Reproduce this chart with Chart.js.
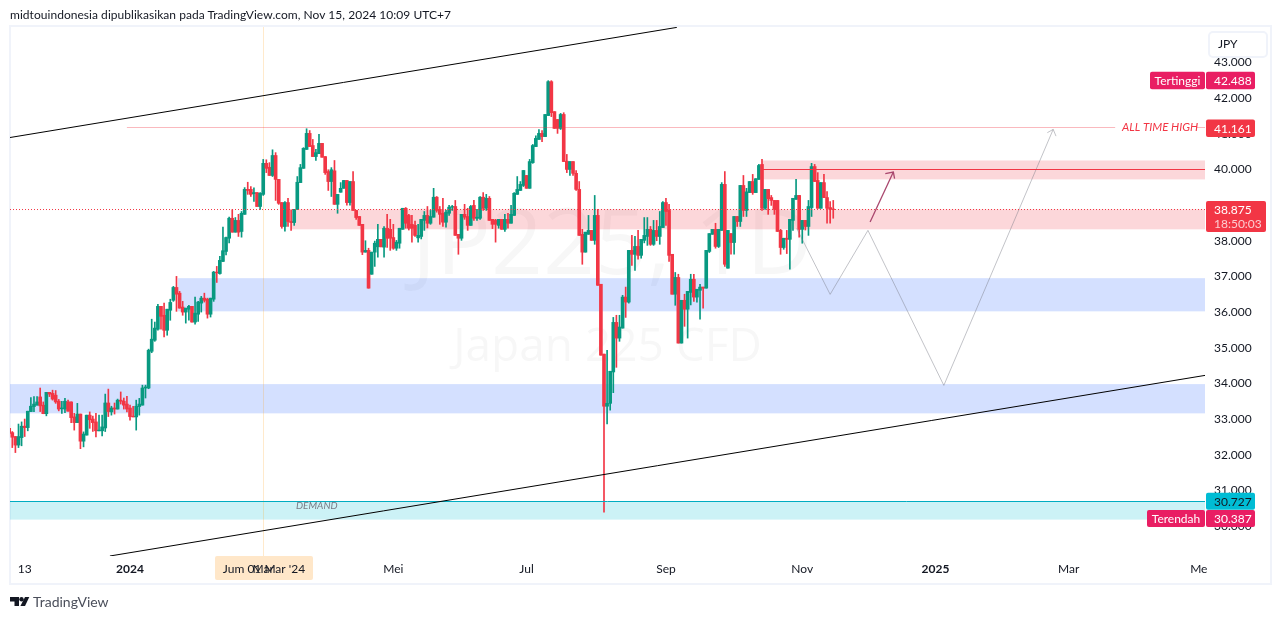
<!DOCTYPE html>
<html>
<head>
<meta charset="utf-8">
<style>
html, body { margin: 0; padding: 0; background: #fff; overflow: hidden; }
#wrap { position: relative; width: 1281px; height: 619px; }
#title { position: absolute; left: 10px; top: 7px; font: 12px Lato, sans-serif; letter-spacing: 0.04px; color: #131722; white-space: nowrap; }
#brand { position: absolute; left: 33px; top: 593px; font: 14px Lato, sans-serif; color: #4a4e5a; }
#logo { position: absolute; left: 0; top: 590px; }
</style>
</head>
<body>
<div id="wrap">
  <canvas id="chart" width="1281" height="619"></canvas>
  <div id="title">midtouindonesia dipublikasikan pada TradingView.com, Nov 15, 2024 10:09 UTC+7</div>
  <svg id="logo" width="32" height="20"><path d="M10 7h9v9h-4.5v-4.5H10z" fill="#131722"/><circle cx="21.5" cy="9.3" r="2.2" fill="#131722"/><path d="M25 7h4.3l-4.3 9h-4.6z" fill="#131722"/></svg>
  <div id="brand">TradingView</div>
</div>
<script src="https://cdn.jsdelivr.net/npm/chart.js@4"></script>
<script>
const opens = [32740,32620,32510,32270,32480,32800,32760,33210,33350,33390,
33620,33390,33150,33750,33720,33670,33500,33290,33280,33480,
33480,33060,32900,33140,32380,32550,33110,33000,32920,32670,
32670,32750,33450,33200,33310,33280,33530,33500,33420,33310,
33080,33060,33350,33390,33870,33870,34900,35210,35520,36160,
35910,35490,36050,36330,36690,36530,36140,36000,36080,36160,
35720,35940,36250,36390,36360,35940,36360,37120,37080,37420,
37700,38070,38630,38240,38570,38260,38740,39440,39440,39320,
39350,38960,39300,40170,40060,39830,40390,39720,39070,38400,
39070,38540,38510,38880,39630,40030,40560,41010,40670,40360,
40440,40730,40360,39940,39660,39960,39020,39360,39470,39690,
39070,39660,38850,38680,38460,37680,37730,37060,37680,37830,
38040,37820,38350,38320,38090,37790,37930,38320,38910,38710,
38460,38430,38080,38120,38570,38710,38490,38660,39220,38880,
38770,38520,38770,38940,38960,38180,38070,38740,38680,38430,
38990,38630,38630,39220,38910,39190,38600,38570,38430,38600,
38320,38600,38490,38710,39300,39410,39550,39830,39470,40190,
40640,40840,41010,40920,41510,42460,41620,41400,41150,41540,
40230,40000,40220,39890,39440,38180,37680,38180,38290,38010,
38710,36780,34820,33360,33440,34320,35710,35270,35550,36420,
36280,37730,37620,37840,37590,38010,38120,38320,37900,38290,
38120,38370,39070,38850,37620,36500,36970,35130,36330,36080,
36550,36920,36420,36610,36700,36670,37700,38180,38320,37840,
38290,39580,37230,38200,37950,38680,38540,39550,38850,39350,
39660,39350,39720,40140,38910,39440,39210,39130,39130,38290,
37810,38070,38040,38570,39160,39270,38320,38570,38400,38930,
40080,39690,38910,39630,39210,38930,38890];
const highs = [32830,32650,32510,32860,32920,33000,33220,33600,33630,33630,
33870,33480,33750,33750,33810,33800,33550,33500,33580,33530,
33480,33160,33440,33140,32640,33110,33200,33080,33160,33110,
33110,33700,33840,33360,33450,33560,33760,33590,33640,33390,
33360,33530,33580,33950,33950,34960,35800,35720,36220,36160,
36250,36080,36360,36720,37000,36580,36300,36110,36190,36160,
36420,36300,36440,36530,36390,36390,37140,37280,37560,38380,
38100,38660,38870,38650,38740,38820,39490,39640,39520,39480,
39350,39350,40280,40270,40190,40550,40470,39720,39070,39100,
39190,38870,38880,39800,40140,40610,41140,41090,40840,40560,
40980,40730,40360,39990,40050,40250,39300,39630,39690,39690,
39660,39940,38850,38680,38460,38000,37790,37680,37990,38460,
38040,38400,38740,38600,38460,38010,38350,38910,38930,38740,
38710,38550,38460,38600,38820,38960,38850,39470,39240,38960,
39190,38850,38990,38990,39130,38180,38740,39020,38910,38990,
39130,38880,39240,39350,39300,39240,38600,38600,38600,38600,
38740,38770,38990,39350,39800,39660,39970,39830,40280,40700,
40940,41120,41090,41540,42488,42488,41620,41400,41570,41590,
40420,40220,40220,39970,39660,38320,38240,38710,38290,39270,
38880,36780,34820,34930,34340,35850,35910,35910,36470,36700,
37730,38150,38120,38290,38040,38650,38650,38400,38570,38570,
38820,39100,39190,39020,37620,37110,37060,36330,36500,36580,
37060,37060,36640,36780,36700,37730,38200,38320,38490,38320,
39630,39940,38290,38200,38680,38680,39550,39830,39470,39660,
39860,39740,40140,40280,39440,39440,39270,39130,39130,38320,
38070,38290,38600,39190,39720,39270,38570,38570,39130,40170,
40140,39910,39630,39860,39380,39100,39130];
const lows = [32550,32200,32060,32200,32250,32510,32670,33210,33210,33390,
33210,33150,33090,33630,33530,33440,33230,33160,33180,33220,
32900,32690,32900,32170,32220,32550,32740,32650,32500,32670,
32530,32650,33070,33110,33140,33280,33420,33280,33200,32970,
33060,32690,33110,33390,33590,33850,34860,35180,35490,35520,
35300,35350,35770,36300,36020,36110,35910,35690,35770,35720,
35660,35740,36000,36280,35830,35860,36300,36830,37060,37410,
37600,37940,38240,38240,38120,38100,38740,39300,39240,39100,
38960,38880,39270,39910,39830,39800,39130,39020,38350,38270,
38400,38290,38430,38880,39630,40030,40560,40640,40360,40250,
40440,40340,39860,39410,39240,39020,38770,39360,39470,39000,
39000,38850,38600,38430,37610,37680,36670,37060,37280,37540,
37830,37540,37810,37730,37760,37730,37790,38320,38350,38300,
37960,38120,37960,38050,38290,38360,38460,38660,38800,38460,
38400,38380,38710,38850,38150,37620,38010,38600,38290,38430,
38570,38570,38600,38850,38850,38570,38340,37960,38350,38320,
38260,38350,38490,38710,39300,39410,39520,39470,39470,40170,
40640,40840,40780,40920,41510,41480,41150,41010,41120,40220,
39910,39830,39830,39410,38150,37340,37680,38180,38010,37900,
36750,34790,30387,32860,33250,33740,34450,35180,35550,35850,
36250,37310,37170,37480,37510,37940,37870,37870,37870,38000,
37900,38370,38430,37420,36500,36190,35130,35130,35600,35270,
36200,36300,36280,35800,36110,36670,37670,38180,37790,37810,
38290,37280,37230,37620,37620,38400,38400,38680,38680,39350,
39300,39350,39720,38850,38880,38740,38990,38740,38260,37620,
37760,37640,37200,38290,39160,38100,37930,38300,38150,38680,
39660,38910,38910,39210,38490,38490,38630];
const closes = [32600,32490,32270,32510,32800,32760,33220,33360,33420,33480,
33370,33150,33750,33700,33560,33480,33280,33310,33500,33220,
33040,32900,33140,32380,32580,33110,32980,32900,32670,32690,
32780,33450,33210,33310,33280,33530,33500,33390,33280,33070,
33060,33360,33420,33870,33900,34930,35240,35550,36160,35880,
35490,36080,36270,36690,36500,36110,36000,36110,36160,35720,
35970,36280,36390,36330,35940,36390,37120,37100,37450,37720,
38090,38630,38240,38570,38240,38770,39440,39410,39300,39350,
38960,39330,40170,40030,39830,40390,39720,39050,38400,39070,
38540,38510,38880,39640,40050,40590,41010,40640,40360,40470,
40730,40340,39910,39660,39990,39020,39300,39470,39690,39070,
39660,38850,38650,38430,37680,37730,36670,37680,37930,38040,
37830,38350,38070,38070,37790,37960,38350,38910,38490,38350,
38350,38150,38150,38600,38710,38490,38680,39220,38850,38740,
38520,38800,38940,38960,38150,38070,38740,38660,38430,38960,
38630,38660,39220,38910,39190,38570,38460,38460,38600,38320,
38600,38490,38740,39330,39440,39580,39970,39470,40220,40670,
40870,41010,40920,41540,42460,41590,41150,41150,41540,40220,
40000,40220,39890,39440,38150,37680,38240,38290,38010,38710,
36750,34790,33360,33440,34340,35710,35270,35580,36420,36280,
37730,37620,37840,37590,38040,38150,38320,37900,38290,38120,
38400,39070,38820,37590,36500,36970,35130,36330,36080,36580,
36920,36420,36640,36700,36670,37730,38200,38320,37840,38320,
39580,37340,38290,37950,38680,38540,39550,38850,39370,39660,
39350,39740,40110,38910,39440,39180,39130,38880,38260,37810,
38070,38040,38600,39190,39270,38320,38570,38400,38960,40080,
39660,38910,39630,39210,38910,38880,38875];

// time axis, in candle slots (future slots are empty)
const firstSlot = 0.26;
const lastSlot = 386;
const tickSlots = [5, 39, 82, 124, 167, 212, 256, 299, 342, 384];
const tickNames = ['13', '2024', 'Mar', 'Mei', 'Jul', 'Sep', 'Nov', '2025', 'Mar', 'Me'];
const crossSlot = 82;

const priceTicks = [30000, 31000, 32000, 33000, 34000, 35000, 36000, 37000, 38000, 39000, 40000, 41000, 42000, 43000];

// drawings: [slot, price]
const upperTrend = [[0.26, 40894], [215.5, 43982]];
const lowerTrend = [[32.5, 29160], [386, 34224]];
const athLine = [[38, 41175], [357, 41175]];
const athStub = [[383.4, 41175], [386, 41175]];
const resistLine = [[243, 39997], [386, 39997]];
const demandLine = [[0.26, 30688], [386, 30688]];
const lastLine = [[0.26, 38875], [386, 38875]];
const pathLine = [[254.2, 38346], [265, 36496], [277.2, 38290], [301.7, 33944], [337, 41122]];
const pathHead = [[335.1, 41030], [337, 41122], [337.9, 40934]];
const upArrow = [[277.9, 38523], [285.4, 39925]];
const upHead = [[282.8, 39880], [285.4, 39925], [285.8, 39740]];

// zones: [from slot, top price, bottom price]
const pinkZones = [[243, 40250, 39720], [91.3, 38880, 38320]];
const blueZones = [[54.5, 36950, 36020], [0, 33980, 33160]];
const cyanZones = [[0, 30688, 30180]];

const fontName = 'Lato, sans-serif';
const markFont = '"Open Sans", sans-serif';
const upColor = '#089981';
const downColor = '#f23645';

const candleColors = closes.map((c, i) => (c >= opens[i] ? upColor : downColor));
const toPoints = list => list.map(p => ({ x: p[0], y: p[1] }));

function lineSet(list, color, width, dash) {
    return {
        type: 'line',
        data: toPoints(list),
        borderColor: color,
        borderWidth: width,
        borderDash: dash || [],
        pointRadius: 0,
        tension: 0,
        order: 0,
    };
}

function tag(ctx, x, y, w, h, color, text, textColor, centered) {
    ctx.fillStyle = color;
    ctx.beginPath();
    ctx.roundRect(x, y, w, h, 2);
    ctx.fill();
    ctx.fillStyle = textColor;
    ctx.font = '12px ' + fontName;
    ctx.textAlign = centered ? 'center' : 'left';
    ctx.textBaseline = 'middle';
    ctx.fillText(text, centered ? x + w / 2 : x + 8, y + h / 2 + 0.5);
}

const drawings = {
    id: 'drawings',
    beforeDraw(chart) {
        const ctx = chart.ctx;
        ctx.save();
        ctx.strokeStyle = '#f0f3fa';
        ctx.lineWidth = 2;
        ctx.strokeRect(10, 26, 1261, 558);
        // crosshair date box goes under the axis text
        ctx.fillStyle = '#ffe7c9';
        ctx.beginPath();
        ctx.roundRect(215, 556, 98, 24, 2);
        ctx.fill();
        ctx.restore();
    },
    beforeDatasetsDraw(chart) {
        const { ctx, chartArea: a, scales: { x, y } } = chart;
        ctx.save();
        ctx.beginPath();
        ctx.rect(a.left, a.top, a.width, a.height);
        ctx.clip();

        ctx.fillStyle = 'rgba(19,23,34,0.035)';
        ctx.textAlign = 'center';
        ctx.textBaseline = 'middle';
        ctx.font = '91px ' + markFont;
        ctx.fillText('JP225, 1D', 612, 248);
        ctx.font = '46px ' + markFont;
        ctx.fillText('Japan 225 CFD', 607.5, 348);

        const band = (list, color) => list.forEach(z => {
            const left = x.getPixelForValue(z[0]);
            const top = y.getPixelForValue(z[1]);
            ctx.fillStyle = color;
            ctx.fillRect(left, top, a.right - left, y.getPixelForValue(z[2]) - top);
        });
        band(pinkZones, 'rgba(242,54,69,0.2)');
        band(blueZones, 'rgba(41,98,255,0.2)');
        band(cyanZones, 'rgba(0,188,212,0.2)');

        const crossX = Math.floor(x.getPixelForValue(crossSlot)) + 0.5;
        ctx.strokeStyle = 'rgba(255,152,0,0.2)';
        ctx.lineWidth = 1;
        ctx.beginPath();
        ctx.moveTo(crossX, a.top);
        ctx.lineTo(crossX, a.bottom);
        ctx.stroke();
        ctx.restore();
    },
    afterDraw(chart) {
        const { ctx, scales: { y } } = chart;
        ctx.save();
        ctx.textBaseline = 'middle';

        // crosshair date
        ctx.fillStyle = '#131722';
        ctx.font = '12px ' + fontName;
        ctx.textAlign = 'center';
        ctx.fillText("Jum 01 Mar '24", 264, 569.5);

        // text on the drawings
        ctx.fillStyle = '#f23645';
        ctx.font = 'italic 11.5px ' + fontName;
        ctx.textAlign = 'left';
        ctx.fillText('ALL TIME HIGH', 1122, 127.5);
        ctx.fillStyle = '#787b86';
        ctx.font = 'italic 10px ' + fontName;
        ctx.fillText('DEMAND', 296, 506);

        // currency button
        ctx.fillStyle = '#fff';
        ctx.strokeStyle = '#f0f3fa';
        ctx.lineWidth = 2;
        ctx.beginPath();
        ctx.roundRect(1209, 32, 58, 25, 4);
        ctx.fill();
        ctx.stroke();
        ctx.fillStyle = '#131722';
        ctx.font = '12px ' + fontName;
        ctx.fillText('JPY', 1218, 44.5);

        // price tags
        const tagY = v => y.getPixelForValue(v);
        tag(ctx, 1150, tagY(42488) - 9, 55, 17.5, '#e91e63', 'Tertinggi', '#fff', true);
        tag(ctx, 1206, tagY(42488) - 9, 49, 17.5, '#e91e63', '42.488', '#fff');
        tag(ctx, 1206, tagY(41161) - 8.5, 49, 17.5, '#f23645', '41.161', '#fff');
        tag(ctx, 1206, tagY(38875) - 8.5, 60, 31, '#f23645', '', '#fff');
        ctx.fillStyle = '#fff';
        ctx.font = '12px ' + fontName;
        ctx.fillText('38.875', 1214, tagY(38875) + 0.5);
        ctx.fillStyle = 'rgba(255,255,255,0.75)';
        ctx.fillText('18:50:03', 1214, tagY(38875) + 14.5);
        tag(ctx, 1206, 492.7, 49, 17, '#00bcd4', '30.727', '#131722');
        tag(ctx, 1147, 510, 58, 17, '#e91e63', 'Terendah', '#fff', true);
        tag(ctx, 1206, 510, 49, 17, '#e91e63', '30.387', '#fff');
        ctx.restore();
    },
};

new Chart(document.getElementById('chart'), {
    type: 'bar',
    data: {
        datasets: [
            lineSet(upperTrend, '#000', 1),
            lineSet(lowerTrend, '#000', 1),
            lineSet(athLine, 'rgba(242,54,69,0.35)', 1),
            lineSet(athStub, 'rgba(242,54,69,0.35)', 1),
            lineSet(resistLine, '#f23645', 1),
            lineSet(demandLine, '#00acc1', 1),
            lineSet(lastLine, '#f23645', 1, [1, 2]),
            lineSet(pathLine, 'rgba(120,123,134,0.45)', 1),
            lineSet(pathHead, 'rgba(120,123,134,0.45)', 1),
            lineSet(upArrow, '#a9476e', 1.3),
            lineSet(upHead, '#a9476e', 1.3),
            {
                data: closes.map((c, i) => ({ x: i, y: [opens[i], c] })),
                backgroundColor: candleColors,
                barThickness: 3,
                grouped: false,
                order: 1,
            },
            {
                data: highs.map((h, i) => ({ x: i, y: [lows[i], h] })),
                backgroundColor: candleColors,
                barThickness: 1,
                grouped: false,
                order: 2,
            },
        ],
    },
    plugins: [drawings],
    options: {
        responsive: false,
        animation: false,
        events: [],
        layout: { padding: { left: 10, top: 27, right: 10, bottom: 35 } },
        plugins: { legend: { display: false }, tooltip: { enabled: false } },
        scales: {
            x: {
                type: 'linear',
                offset: false,
                min: firstSlot,
                max: lastSlot,
                grid: { display: false, drawTicks: false },
                border: { display: false },
                afterBuildTicks: s => { s.ticks = tickSlots.map(v => ({ value: v })); },
                afterFit: s => { s.height = 28; },
                ticks: {
                    autoSkip: false,
                    maxRotation: 0,
                    padding: 6,
                    color: '#131722',
                    font: c => ({
                        family: fontName,
                        size: 12,
                        weight: c.tick && (c.tick.value === 39 || c.tick.value === 299) ? 'bold' : 'normal',
                    }),
                    callback: v => tickNames[tickSlots.indexOf(v)],
                },
            },
            y: {
                position: 'right',
                min: 29160,
                max: 43993,
                grid: { display: false, drawTicks: false },
                border: { display: false },
                afterBuildTicks: s => { s.ticks = priceTicks.map(v => ({ value: v })); },
                afterFit: s => { s.width = 66; },
                ticks: {
                    autoSkip: false,
                    padding: 9,
                    color: '#131722',
                    font: { family: fontName, size: 12 },
                    callback: v => String(v / 1000) + '.000',
                },
            },
        },
    },
});
</script>
</body>
</html>
